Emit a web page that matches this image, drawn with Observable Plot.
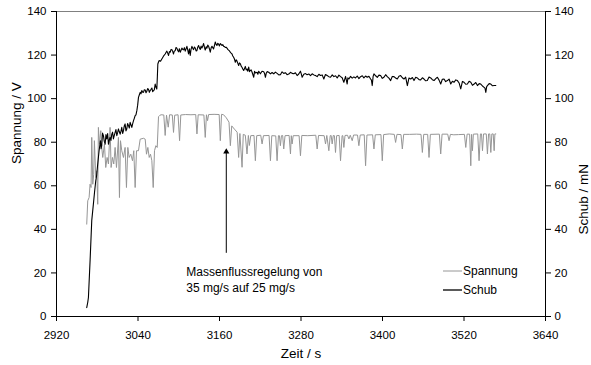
<!DOCTYPE html>
<html><head><meta charset="utf-8">
<script src="https://cdn.jsdelivr.net/npm/d3@7"></script>
<script src="https://cdn.jsdelivr.net/npm/@observablehq/plot@0.6"></script>
<style>
body{margin:0;background:#fff}
#chart svg{font-family:"Liberation Sans",Arial,sans-serif}
</style>
</head><body><div id="chart"></div>
<script>
const xTicks = [2920, 3040, 3160, 3280, 3400, 3520, 3640];
const yTicks = [0, 20, 40, 60, 80, 100, 120, 140];
const seriesNames = ["Spannung", "Schub"];
const seriesColors = ["#969696", "#000000"];
const axisTitles = {left: "Spannung / V", right: "Schub / mN", bottom: "Zeit / s"};
const annotationLines = ["Massenflussregelung von", "35 mg/s auf 25 mg/s"];
const annotation = [{t: 3170, base: 29, tip: 75.6, textT: 3111, textV: 17.2}];

// Spannung / V  [t, value]
const spannung = [
[2964.5,42.4],[2966,53.1],[2968,54.6],[2969.4,60.7],[2970.9,59.2],[2971.9,82.2],[2973.4,60.7],[2974.8,65.3],[2975.8,80.7],[2977.8,63.8],
[2979.3,66.9],[2980.7,51.5],[2981.7,86.8],[2983.2,79.1],[2985.2,85.3],[2986.6,77.6],[2988.1,73],[2990.6,79.1],[2992.5,68.4],[2994.5,73],
[2996.5,70],[2998.9,86.8],[3000.4,68.4],[3002.4,73],[3004.3,70],[3006.3,77.6],[3008.3,68.4],[3011.2,82.2],[3012.7,54.6],[3014.2,80.7],
[3016.1,76.1],[3018.6,73],[3021,77.6],[3023,59.2],[3025,77.6],[3027,73],[3029.4,74.5],[3031.9,71.5],[3033.8,76.1],[3035.8,59.2],
[3037.8,76.1],[3040.7,76.1],[3043.2,81.4],[3048.1,81.8],[3050.6,81.4],[3052.5,74.5],[3054.5,77.6],[3056.5,73],[3058.4,74.5],[3060.4,71.5],
[3062.4,59.2],[3064.3,76.1],[3066.3,78.4],[3068.3,77.6],[3070.2,91.7],[3072,92.3],[3074,92.6],[3078,92.5],[3080,83.1],[3082,92.4],
[3084.5,86.9],[3086.5,92.6],[3090.5,92.5],[3092.3,84.5],[3094,92.4],[3099,92.6],[3101.2,80.7],[3103,92.5],[3110,92.7],[3118,92.6],
[3125,92.7],[3126.8,83.8],[3128.6,92.6],[3137,92.5],[3139,82.2],[3140.8,92.6],[3142.4,89.9],[3144,92.7],[3152,92.8],[3159.5,92.7],
[3161.2,80.7],[3163,92.8],[3166,92.6],[3170,91.2],[3174,89.2],[3176,78.4],[3178,87.5],[3182,86],[3186,84.6],[3188.2,73],
[3190,84],[3193.2,68.5],[3195,83.6],[3198,83.2],[3200.5,74.6],[3202.5,83.1],[3204,78.5],[3206,83],[3210.8,83.1],[3212.8,71.5],
[3214.8,83],[3220.7,83.2],[3222.7,79.2],[3224.7,83],[3233,83.1],[3235,71.5],[3237,83],[3242.8,82.9],[3244.8,71.5],[3246.8,83],
[3248.2,83],[3249.7,78.4],[3251.2,83],[3253,83.1],[3254.6,76.9],[3256.5,83],[3262.5,83.1],[3264.5,74.6],[3265.7,83],[3266.9,79.2],
[3268.5,83],[3277.2,83],[3279.2,73.8],[3281.2,83.1],[3290,83],[3301.8,83.2],[3303.8,76.9],[3305.8,83.1],[3314.1,83],[3316.1,79.2],
[3318,83.1],[3321,76.1],[3323,83],[3324.4,83.1],[3325.9,79.2],[3327.5,83.1],[3329.2,83],[3330.8,75.3],[3332.5,83],[3336.2,83.1],
[3338.2,71.5],[3340.5,83],[3341.6,83],[3343.1,77.6],[3344.8,83.1],[3348.5,83.2],[3350.5,81.5],[3352.5,83.2],[3355.4,80.7],[3357.4,83.3],
[3363.2,83.3],[3365.2,78.4],[3367.2,83.3],[3373.1,83.4],[3375.1,69.2],[3377.1,83.3],[3385.4,83.4],[3387.4,76.9],[3389.4,83.4],[3397.7,83.5],
[3399.7,71.5],[3401.7,83.5],[3410,83.8],[3417.3,83.6],[3419.3,79.9],[3421.3,83.6],[3427.2,83.5],[3429.2,76.9],[3431.2,83.6],[3440,83.6],
[3450,83.7],[3456.7,83.6],[3458.7,75.3],[3460.7,83.6],[3466.5,83.6],[3468.5,73],[3470.5,83.6],[3483.7,83.7],[3485.7,74.6],[3487.7,83.7],
[3496,83.7],[3498,80.7],[3500,83.6],[3505,83.4],[3512,83.5],[3520.6,83.6],[3522.6,77.6],[3524.6,83.7],[3528.3,83.7],[3530,69.2],
[3531.2,83.6],[3532.4,76.1],[3533.8,83.7],[3540.2,83.8],[3542.2,71.5],[3544.2,83.8],[3545.8,83.8],[3547.2,76.1],[3548.8,83.8],[3552.8,83.8],
[3554.5,74.6],[3556.2,83.8],[3558,83.8],[3559.5,75.3],[3561,83.8],[3563,83.8],[3564.4,76.1],[3565.5,83.8],[3566.8,83.8]
];

// Schub / mN  [t, value]
const schub = [
[2964.5,4.1],[2966,6.5],[2967,8.7],[2969.5,26],[2971.9,44],[2974.3,51.6],[2976,57],[2977.8,62.3],[2979,64.5],[2980.7,70],
[2982.7,76.1],[2984.7,80.7],[2985.6,77],[2986.6,78.4],[2987.8,84.2],[2989.1,83],[2990.3,80.5],[2991.6,79.1],[2992.8,83.5],[2994,81.5],
[2995.3,84],[2996.5,79.1],[2997.7,81],[2998.9,82.2],[3000.2,80.8],[3001.4,83.7],[3002.6,84.6],[3003.8,81.5],[3005,83],[3006.3,84.5],
[3007.5,85.8],[3008.8,83],[3010,84.4],[3011.2,86.1],[3012.4,84.9],[3013.7,83.7],[3014.9,85],[3016.1,86.8],[3017.4,84],[3018.6,85.3],
[3019.8,87.5],[3021,88.4],[3022.3,85.2],[3023.5,86.1],[3024.7,88.6],[3026,87.6],[3027.2,86.5],[3028.4,89.1],[3029.6,88],[3030.9,86.8],
[3032.1,88.4],[3033.4,89.9],[3034.6,91],[3035.8,92.2],[3037,92.6],[3038.3,94.5],[3039.5,97],[3040.7,100.6],[3042,101.8],[3043.2,102.9],
[3044.4,102.2],[3045.6,103.7],[3046.9,103],[3048.1,102.9],[3049.3,104.1],[3050.6,104],[3051.8,102.7],[3053,103.4],[3054.2,104.6],[3055.5,104.3],
[3056.7,102.9],[3057.9,103.7],[3059.2,104.3],[3060.4,104.9],[3061.6,103.2],[3062.8,103.7],[3064,104],[3065.3,106.7],[3066.5,105.2],[3067.7,104.4],
[3068.5,110],[3069.2,115.9],[3070.2,116.8],[3071.2,117.5],[3073.2,117.2],[3075.1,118.2],[3077.5,119.5],[3080,120.5],[3081.2,121.2],[3082.5,121.8],
[3083.7,120.9],[3085,119.8],[3086.2,121.6],[3087.4,121.3],[3088.7,122.6],[3090,122.4],[3091.1,121.7],[3092.3,120.5],[3093.5,121.9],[3094.8,122],
[3096,123.5],[3097.2,123.2],[3098.5,122.1],[3099.7,121.5],[3100.9,122.9],[3102.2,121.3],[3103.4,122.2],[3104.6,123.2],[3105.9,122.6],[3107.1,122.4],
[3108.3,123.4],[3109.5,121.8],[3110.8,122.9],[3112,124],[3113.2,122.4],[3114.4,120.5],[3115.7,122.9],[3116.9,119.8],[3118.1,122.6],[3119.4,124],
[3120.6,123.1],[3121.8,122.5],[3123.1,123.7],[3124.3,123.2],[3125.5,121.9],[3126.7,122],[3128,123.6],[3129.2,124.4],[3130.4,123.3],[3131.7,122.6],
[3132.9,124.1],[3134.1,123.2],[3135.4,124.2],[3136.6,125.3],[3137.8,123.6],[3139,122.3],[3140.3,123.8],[3141.5,123.2],[3142.7,124.6],[3144,124],
[3145.2,122.8],[3146.4,121.3],[3147.7,123.3],[3148.9,124],[3150.1,123.4],[3151.3,122.8],[3152.6,124.5],[3153.8,126],[3155,124.9],[3156.2,124.4],
[3157.5,125.4],[3158.7,125],[3159.9,124.2],[3161.2,125.3],[3162.4,124.9],[3163.6,124.4],[3164.9,124.8],[3166.1,124],[3167.3,123.9],[3168.5,123.5],
[3169.8,123.6],[3171,123.2],[3172.2,122.6],[3173.4,122.3],[3174.7,121.9],[3175.9,121.3],[3177.1,120.9],[3178.4,120.5],[3179.6,119.6],[3180.8,119],
[3182,118.2],[3183.3,116.7],[3184.5,117.8],[3185.7,117.3],[3187,116.2],[3188.2,115.2],[3189.4,116.4],[3190.7,116],[3191.9,114.9],[3193.1,114.4],
[3194.3,113.6],[3195.6,112.9],[3196.8,113.8],[3198,114.8],[3199.3,113.2],[3200.5,113.6],[3201.7,112.6],[3203,114.5],[3204.2,112.4],[3205.4,112.9],
[3206.6,113.2],[3208,112.1],[3210.4,109.8],[3211.6,112.5],[3213,111.8],[3215.3,112.1],[3216.5,111.2],[3217.8,112.6],[3220.2,111.4],[3222.6,112.6],
[3225.1,112.3],[3226.4,111.5],[3227.6,109.8],[3228.8,111.6],[3230.1,112.4],[3232.5,112.1],[3235,111.4],[3237.4,112],[3239.9,111.4],[3242.3,112.2],
[3244.8,111.6],[3247.3,110.9],[3249.7,111],[3252.1,112.3],[3254.6,111.6],[3257,111.9],[3259.5,111],[3262,111.3],[3264.5,112.1],[3266.9,111.6],
[3269.4,111.4],[3271.8,111.9],[3274.3,110.6],[3276.7,111.3],[3279.2,112.6],[3280.4,111.4],[3281.7,109.8],[3284.1,111.2],[3286.6,111.5],[3289,111],
[3291.5,111.3],[3294,110.6],[3296.4,111.4],[3298.9,110.9],[3301.3,110.6],[3303.8,110.1],[3306.3,111.2],[3308.7,110.6],[3311.2,110.9],[3313.6,109],
[3316,111.1],[3318.5,110.6],[3321,110.1],[3323.5,109.8],[3326,110.9],[3328.4,110.1],[3330.8,110.5],[3333.3,109.5],[3335.8,110.8],[3338.2,110.1],
[3340.6,109.6],[3343.1,107.5],[3345.6,110.2],[3348,106.7],[3349,109.6],[3350.5,109],[3353,110.2],[3355.4,109.4],[3357.9,110],[3360.3,109.5],
[3362.8,110.4],[3365.3,109.2],[3367.7,110.1],[3370.2,110.5],[3372.6,109.5],[3375.1,110.4],[3377.5,109.8],[3380,110.3],[3382.5,109],[3383.7,108.5],
[3384.9,106],[3386.2,110.2],[3387.4,111.4],[3389.9,110.5],[3392.3,109.8],[3394.8,110.8],[3397.2,110.6],[3399.7,109.3],[3402.1,109.8],[3404.6,111],
[3407,110.1],[3409.5,109.4],[3412,108.3],[3414.4,110.2],[3416.9,110.1],[3419.3,109.5],[3421.8,109],[3424.2,110.3],[3426.7,110.6],[3429.2,109.6],
[3431.6,109],[3434.1,109.9],[3436.6,106],[3439,109.5],[3441.5,109],[3444,109.7],[3446.4,108.3],[3448.9,109.8],[3451.3,109.5],[3453.8,108.7],
[3456.2,108.6],[3458.7,109.6],[3461.1,109],[3463.6,108.2],[3466,108.3],[3468.5,109.9],[3471,109.5],[3473.4,108.7],[3475.9,108.3],[3478.4,109.2],
[3480.8,109.8],[3483.3,108.5],[3485.7,106.7],[3488.1,108.9],[3490.6,109],[3493,107.8],[3495.5,108.3],[3498,109],[3500.5,106.7],[3502.9,108],
[3505.4,107.5],[3507.9,108.6],[3510.3,108.3],[3512.8,107.2],[3515.2,104.5],[3517.7,107.9],[3520.1,107.5],[3522.6,106.6],[3525,106.7],[3527.5,108],
[3530,107.5],[3532.4,106.1],[3534.9,106.7],[3537.3,107.4],[3539.8,106],[3542.3,106.9],[3544.7,106.7],[3547.2,105.8],[3549.6,105.2],[3550.9,104.8],
[3552.1,102.9],[3553.3,105.4],[3554.5,106],[3557,106.9],[3559.5,106.7],[3562,105.9],[3564.4,106],[3566.8,106]
];

const W = 591, H = 365, mL = 56, mR = 46, mT = 11, mB = 49;
const font = "'Liberation Sans', Arial, sans-serif";

const plot = Plot.plot({
  width: W, height: H,
  marginLeft: mL, marginRight: mR, marginTop: mT, marginBottom: mB,
  style: {fontFamily: font, fontSize: "11.5px", background: "#fff", color: "#000", overflow: "visible"},
  x: {domain: [xTicks[0], xTicks[xTicks.length - 1]]},
  y: {domain: [yTicks[0], yTicks[yTicks.length - 1]]},
  marks: [
    Plot.ruleY([yTicks[yTicks.length - 1]], {stroke: "#808080", strokeWidth: 1}),
    Plot.line(spannung, {x: d => d[0], y: d => d[1], stroke: seriesColors[0], strokeWidth: 1}),
    Plot.line(schub, {x: d => d[0], y: d => d[1], stroke: seriesColors[1], strokeWidth: 1.1}),
    Plot.ruleX(annotation, {x: "t", y1: "base", y2: "tip", stroke: "#000", strokeWidth: 1}),
    Plot.dot(annotation, {x: "t", y: "tip", symbol: "triangle", r: 2.3, fill: "#000", stroke: "none"}),
    Plot.text(annotation, {x: "textT", y: "textV", text: () => annotationLines.join("\n"),
      textAnchor: "start", lineAnchor: "middle", lineHeight: 1.33, fontSize: 12, fill: "#000"}),
    Plot.axisX({ticks: xTicks, tickFormat: "d", tickSize: 5, tickPadding: 9, label: null}),
    Plot.axisY({anchor: "left", ticks: yTicks, tickFormat: "d", tickSize: 5, tickPadding: 5, label: null}),
    Plot.axisY({anchor: "right", ticks: yTicks, tickFormat: "d", tickSize: 5, tickPadding: 4, label: null}),
    Plot.ruleX([xTicks[0], xTicks[xTicks.length - 1]], {stroke: "#000", strokeWidth: 1}),
    Plot.ruleY([yTicks[0]], {stroke: "#000", strokeWidth: 1}),
    Plot.text([axisTitles.left], {frameAnchor: "left", dx: -40, rotate: -90, fontSize: 13.5, fill: "#000"}),
    Plot.text([axisTitles.right], {frameAnchor: "right", dx: 38, rotate: -90, fontSize: 13.5, fill: "#000"}),
    Plot.text([axisTitles.bottom], {frameAnchor: "bottom", dy: 41, fontSize: 13.5, fill: "#000"})
  ]
});

// legend inside the plot area (lower right)
const svg = d3.select(plot);
const lg = svg.append("g").attr("font-family", font).attr("font-size", 12).attr("text-anchor", "start");
seriesNames.forEach((name, i) => {
  const y = 271 + i * 19;
  lg.append("line").attr("x1", 443).attr("x2", 462).attr("y1", y).attr("y2", y)
    .attr("stroke", seriesColors[i]).attr("stroke-width", i === 0 ? 1 : 1.3);
  lg.append("text").attr("x", 463).attr("y", y).attr("dy", "0.35em")
    .attr("text-anchor", "start").attr("fill", "#000").text(name);
});

document.getElementById("chart").appendChild(plot);
</script>
</body></html>
